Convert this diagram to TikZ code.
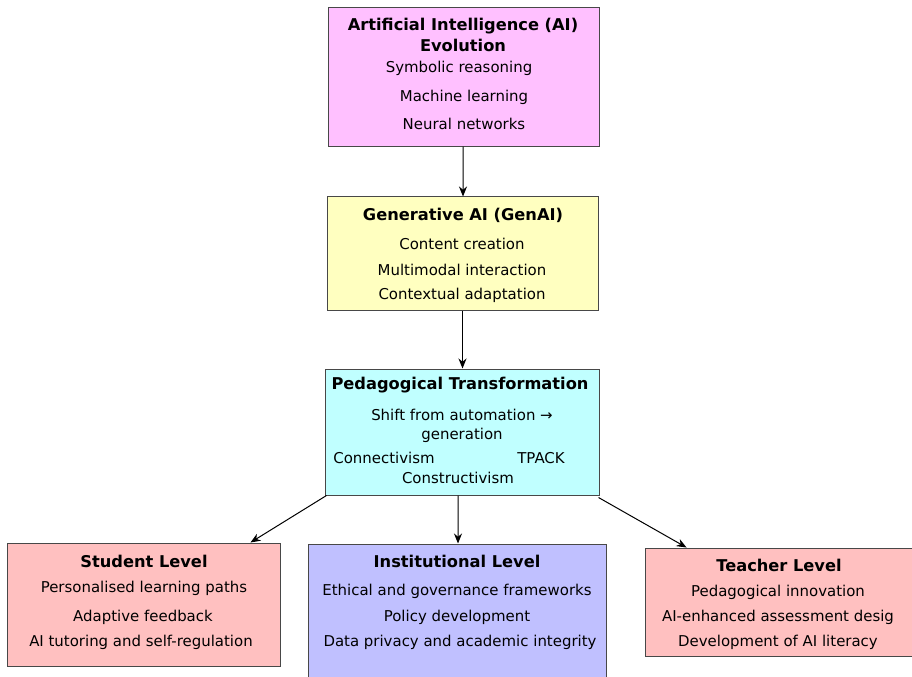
\documentclass[tikz,border=0pt]{standalone}
\usepackage{fontspec}
\setmainfont{DejaVu Sans}
\usetikzlibrary{arrows.meta}
\definecolor{aipink}{RGB}{255,192,255}
\definecolor{genyel}{RGB}{255,255,192}
\definecolor{pedcyan}{RGB}{192,255,255}
\definecolor{levpink}{RGB}{255,192,192}
\definecolor{instblue}{RGB}{192,192,255}
\definecolor{edge}{RGB}{72,72,72}
\tikzset{
  boxnode/.style={draw=edge, line width=1bp, inner sep=0pt},
  ttl/.style={font=\fontsize{16.3}{19}\selectfont\bfseries, inner sep=0pt},
  itm/.style={font=\fontsize{15}{18}\selectfont, inner sep=0pt},
  conn/.style={-{Stealth[length=10bp,width=8bp]}, line width=1bp, black}
}
\begin{document}
\begin{tikzpicture}[x=1bp,y=-1bp]
\clip (0,0) rectangle (912,677);
\fill[white] (0,0) rectangle (912,677);
% boxes
\node[boxnode, fill=aipink, minimum width=271bp, minimum height=138bp] (ai) at (463.5,77) {};
\node[boxnode, fill=genyel, minimum width=271bp, minimum height=113bp] (gen) at (462.5,253.5) {};
\node[boxnode, fill=pedcyan, minimum width=274bp, minimum height=126bp] (ped) at (462,432) {};
\node[boxnode, fill=levpink, minimum width=272bp, minimum height=123bp] (stu) at (144,604.5) {};
\node[boxnode, fill=instblue, minimum width=298bp, minimum height=150bp] (inst) at (457,619) {};
\node[boxnode, fill=levpink, minimum width=276bp, minimum height=108bp] (tea) at (783,602) {};
% texts AI
\node[ttl] (aiT1) at (463,26) {Artificial Intelligence (AI)};
\node[ttl] (aiT2) at (463,45) {Evolution};
\node[itm] (ai1) at (459,68) {Symbolic reasoning};
\node[itm] (ai2) at (464,97) {Machine learning};
\node[itm] (ai3) at (464,124) {Neural networks};
% GenAI
\node[ttl] (genT) at (463,215) {Generative AI (GenAI)};
\node[itm] (gen1) at (462,244) {Content creation};
\node[itm] (gen2) at (462,270) {Multimodal interaction};
\node[itm] (gen3) at (462,295) {Contextual adaptation};
% Pedagogical
\node[ttl] (pedT) at (460,385) {Pedagogical Transformation};
\node[itm] (ped1) at (462,415) {Shift from automation →};
\node[itm] (ped2) at (462,435) {generation};
\node[itm] (ped3) at (384,458) {Connectivism};
\node[itm] (ped4) at (541,458) {TPACK};
\node[itm] (ped5) at (458,478) {Constructivism};
% Student
\node[ttl] (stuT) at (144,561) {Student Level};
\node[itm] (stu1) at (144,588) {Personalised learning paths};
\node[itm] (stu2) at (143,617) {Adaptive feedback};
\node[itm] (stu3) at (141,642) {AI tutoring and self-regulation};
% Institutional
\node[ttl] (instT) at (457,561) {Institutional Level};
\node[itm] (inst1) at (457,591) {Ethical and governance frameworks};
\node[itm] (inst2) at (457,617) {Policy development};
\node[itm] (inst3) at (460,642) {Data privacy and academic integrity};
% Teacher
\node[ttl] (teaT) at (779,565) {Teacher Level};
\node[itm] (tea1) at (778,592) {Pedagogical innovation};
\node[itm] (tea2) at (778,617) {AI-enhanced assessment desig};
\node[itm] (tea3) at (778,642) {Development of AI literacy};
% connectors
\draw[conn] ([xshift=-0.5bp]ai.south) -- ([xshift=0.5bp]gen.north);
\draw[conn] (gen.south) -- ([xshift=0.5bp]ped.north);
\draw[conn] ([xshift=2bp]ped.south west) -- ([xshift=-30bp]stu.north east);
\draw[conn] ([xshift=-4bp]ped.south) -- ([xshift=1bp]inst.north);
\draw[conn] ([xshift=-1bp,yshift=-2bp]ped.south east) -- ([xshift=42bp]tea.north west);
\end{tikzpicture}
\end{document}
